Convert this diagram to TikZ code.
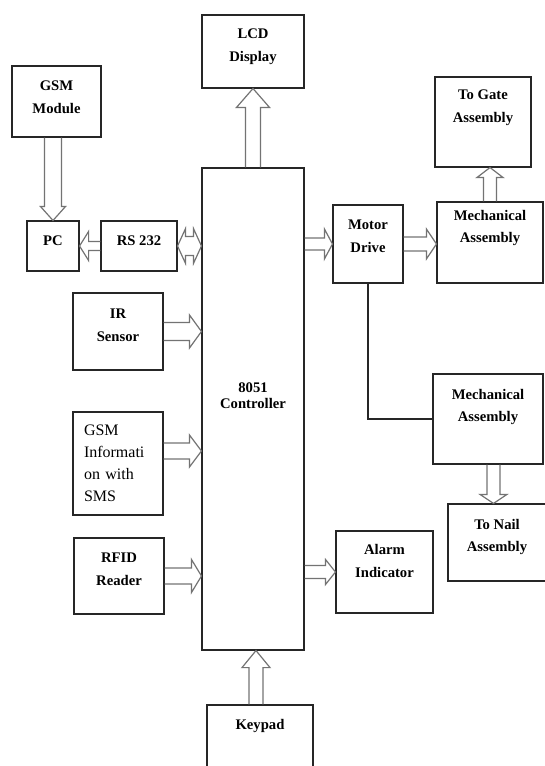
\documentclass[tikz,border=0pt]{standalone}
\usepackage{fontspec}
\setmainfont{Liberation Serif}
\usetikzlibrary{calc}

% hollow block arrow: from, to, shaft half width, head half width, head length
\newcommand{\hollowarrow}[5]{%
  \coordinate (hb) at ($(#2)!#5!(#1)$);
  \draw[hollow] ($(#1)!#3!90:(#2)$) -- ($(hb)!#3!-90:(#1)$) -- ($(hb)!#4!-90:(#1)$) -- (#2)
    -- ($(hb)!#4!90:(#1)$) -- ($(hb)!#3!90:(#1)$) -- ($(#1)!#3!-90:(#2)$);
}
% hollow arrow with a head at both ends
\newcommand{\hollowdouble}[5]{%
  \coordinate (ha) at ($(#1)!#5!(#2)$);
  \coordinate (hb) at ($(#2)!#5!(#1)$);
  \draw[hollow] (#1) -- ($(ha)!#4!90:(#2)$) -- ($(ha)!#3!90:(#2)$) -- ($(hb)!#3!-90:(#1)$)
    -- ($(hb)!#4!-90:(#1)$) -- (#2) -- ($(hb)!#4!90:(#1)$) -- ($(hb)!#3!90:(#1)$)
    -- ($(ha)!#3!-90:(#2)$) -- ($(ha)!#4!-90:(#2)$) -- cycle;
}

\begin{document}
\begin{tikzpicture}[x=0.75pt, y=-0.75pt,
    block/.style={rectangle, draw=black!85, line width=0.8pt, inner sep=0pt},
    txt/.style={align=center, font=\fontsize{11}{17}\selectfont\bfseries},
    hollow/.style={draw=black!55, line width=0.9pt, line join=miter},
    line/.style={draw=black!85, line width=0.8pt}]
    \useasboundingbox (0,0) rectangle (544,766);

    \node [block, minimum width=76.5pt, minimum height=361.5pt,
        label={[txt, yshift=9.75pt]center:8051\\[-5pt]Controller}] (ctrl) at (253,409) {};
    \node [block, minimum width=76.5pt, minimum height=54.75pt,
        label={[txt, yshift=3.4pt]center:LCD\\Display}] (lcd) at (253,51.5) {};
    \node [block, minimum width=66.75pt, minimum height=53.25pt,
        label={[txt, yshift=3.4pt]center:GSM\\Module}] (gsm) at (56.5,101.5) {};
    \node [block, minimum width=39pt, minimum height=37.5pt,
        label={[txt, yshift=3.75pt]center:PC}] (pc) at (53,246) {};
    \node [block, minimum width=57pt, minimum height=37.5pt,
        label={[txt, yshift=3.75pt]center:RS 232}] (rs) at (139,246) {};
    \node [block, minimum width=67.5pt, minimum height=57.75pt,
        label={[txt, yshift=4.9pt]center:IR\\Sensor}] (ir) at (118,331.5) {};
    \node [block, minimum width=67.5pt, minimum height=77.25pt, text width=51pt, inner xsep=8.25pt,
        align=left, font=\fontsize{12}{16.5}\selectfont] (gsmi) at (118,463.5)
        {GSM\\Informati\\on with\\SMS};
    \node [block, minimum width=67.5pt, minimum height=57pt,
        label={[txt, yshift=4.9pt]center:RFID\\Reader}] (rfid) at (119,576) {};
    \node [block, minimum width=79.5pt, minimum height=67.5pt,
        label={[txt, yshift=18pt]center:Keypad}] (kp) at (260,750) {};
    \node [block, minimum width=52.5pt, minimum height=58.5pt,
        label={[txt, yshift=6pt]center:Motor\\Drive}] (md) at (368,244) {};
    \node [block, minimum width=79.5pt, minimum height=60.75pt,
        label={[txt, yshift=10.9pt]center:Mechanical\\Assembly}] (mech1) at (490,242.5) {};
    \node [block, minimum width=72pt, minimum height=67.5pt,
        label={[txt, yshift=10.5pt]center:To Gate\\Assembly}] (gate) at (483,122) {};
    \node [block, minimum width=82.5pt, minimum height=67.5pt,
        label={[txt, yshift=9pt]center:Mechanical\\Assembly}] (mech2) at (488,419) {};
    \node [block, minimum width=73.5pt, minimum height=57.75pt,
        label={[txt, yshift=4.1pt]center:To Nail\\Assembly}] (nail) at (497,542.5) {};
    \node [block, minimum width=72.75pt, minimum height=61.5pt,
        label={[txt, yshift=8.25pt]center:Alarm\\Indicator}] (alarm) at (384.5,572) {};

    % end points of the block arrows
    \coordinate (gsmout) at (gsm.south -| pc.north);
    \coordinate (rsin) at (rs.east -| ctrl.west);
    \coordinate (irin) at (ir.east -| ctrl.west);
    \coordinate (gsmiout) at ($(gsmi.east)+(0,-12.5)$);
    \coordinate (gsmiin) at (gsmiout -| ctrl.west);
    \coordinate (rfidin) at (rfid.east -| ctrl.west);
    \coordinate (mdout) at (md.west -| ctrl.east);
    \coordinate (mech1in) at (md.east -| mech1.west);
    \coordinate (gatein) at (mech1.north |- gate.south);
    \coordinate (mech2out) at ($(mech2.south)+(5.5,0)$);
    \coordinate (nailin) at (mech2out |- nail.north);
    \coordinate (alarmout) at (alarm.west -| ctrl.east);
    \coordinate (kpout) at ($(kp.north)+(-4,0)$);
    \coordinate (kpin) at (kpout |- ctrl.south);

    \hollowarrow{ctrl.north}{lcd.south}{5.6pt}{12.4pt}{14.2pt}
    \hollowarrow{gsmout}{pc.north}{6.4pt}{9.4pt}{10.5pt}
    \hollowarrow{rs.west}{pc.east}{3.4pt}{10.9pt}{6.8pt}
    \hollowdouble{rs.east}{rsin}{7.1pt}{13.1pt}{6pt}
    \hollowarrow{ir.east}{irin}{6.8pt}{12.4pt}{9pt}
    \hollowarrow{gsmiout}{gsmiin}{6pt}{12pt}{9pt}
    \hollowarrow{rfid.east}{rfidin}{6pt}{12.4pt}{7.5pt}
    \hollowarrow{mdout}{md.west}{4.5pt}{11.2pt}{6pt}
    \hollowarrow{md.east}{mech1in}{5.2pt}{11.2pt}{7.5pt}
    \hollowarrow{mech1.north}{gatein}{4.9pt}{9.8pt}{7.5pt}
    \hollowarrow{mech2out}{nailin}{4.9pt}{10.1pt}{6.8pt}
    \hollowarrow{alarmout}{alarm.west}{4.9pt}{9.4pt}{7.5pt}
    \hollowarrow{kpout}{kpin}{5.2pt}{10.5pt}{12.8pt}

    \path [line] (md.south) -- (md.south |- mech2.west) -- (mech2.west);
\end{tikzpicture}
\end{document}
